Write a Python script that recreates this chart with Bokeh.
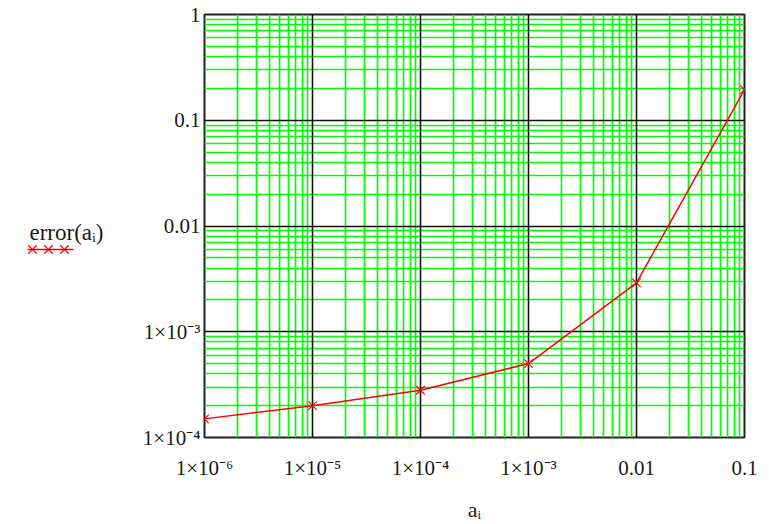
import math
from bokeh.plotting import figure
from bokeh.models import (Range1d, FixedTicker, Grid, CustomJSTickFormatter,
                          ColumnDataSource)
from bokeh.layouts import row
from bokeh.core.properties import value
from bokeh.embed import file_html
from bokeh.resources import INLINE

# ---- data ----
a_values = [1e-6, 1e-5, 1e-4, 1e-3, 1e-2, 1e-1]
error_values = [1.5e-4, 2.0e-4, 2.8e-4, 5.0e-4, 2.9e-3, 0.195]

x_ticks = [1e-6, 1e-5, 1e-4, 1e-3, 1e-2, 1e-1]
x_tick_labels = ["1×10⁻⁶", "1×10⁻⁵", "1×10⁻⁴", "1×10⁻³", "0.01", "0.1"]
y_ticks = [1e-4, 1e-3, 1e-2, 1e-1, 1.0]
y_tick_labels = ["1×10⁻⁴", "1×10⁻³", "0.01", "0.1", "1"]

x_label = "aᵢ"
y_label = "error(aᵢ)"

FONT = "Liberation Serif"
TXT = "#1a1a1a"
GREEN = "#00ff00"

TOP, BOTTOM = 14, 87
LEFT_W = 120

x_minor = [m * t for t in x_ticks[:-1] for m in range(2, 10)]
y_minor = [m * t for t in y_ticks[:-1] for m in range(2, 10)]

xticker = FixedTicker(ticks=x_ticks, minor_ticks=x_minor)
yticker = FixedTicker(ticks=y_ticks, minor_ticks=y_minor)


def make_formatter(ticks, labels):
    exps = [round(math.log10(t)) for t in ticks]
    return CustomJSTickFormatter(
        args=dict(exps=exps, labels=labels),
        code="""
        const e = Math.round(Math.log10(tick));
        const i = exps.indexOf(e);
        return i >= 0 ? labels[i] : "";
        """,
    )


p = figure(width=769 - LEFT_W, height=524, x_axis_type="log", y_axis_type="log",
           x_range=Range1d(x_ticks[0], x_ticks[-1]),
           y_range=Range1d(y_ticks[0], y_ticks[-1]),
           output_backend="svg", toolbar_location=None,
           min_border_left=204 - LEFT_W, min_border_right=25,
           min_border_top=TOP, min_border_bottom=BOTTOM)
p.background_fill_color = "white"
p.border_fill_color = "white"
p.outline_line_color = "#222222"
p.outline_line_width = 2

p.xgrid.visible = False
p.ygrid.visible = False

for dim, tk in ((0, xticker), (1, yticker)):
    p.add_layout(Grid(dimension=dim, ticker=tk, grid_line_color=None,
                      minor_grid_line_color=GREEN, minor_grid_line_width=1.7))
for dim, tk in ((0, xticker), (1, yticker)):
    p.add_layout(Grid(dimension=dim, ticker=tk, grid_line_color="#111111",
                      grid_line_width=1.6, minor_grid_line_color=None))

for ax, tk, fm in ((p.xaxis[0], xticker, make_formatter(x_ticks, x_tick_labels)),
                   (p.yaxis[0], yticker, make_formatter(y_ticks, y_tick_labels))):
    ax.ticker = tk
    ax.formatter = fm
    ax.axis_line_color = None
    ax.major_tick_line_color = None
    ax.minor_tick_line_color = None
    ax.major_tick_out = 0
    ax.minor_tick_out = 0
    ax.major_label_text_font = FONT
    ax.major_label_text_font_size = "21px"
    ax.major_label_text_color = TXT

p.xaxis.major_label_standoff = 18
p.yaxis.major_label_standoff = 4
p.xaxis.axis_label = x_label
p.xaxis.axis_label_text_font = FONT
p.xaxis.axis_label_text_font_size = "22px"
p.xaxis.axis_label_text_font_style = "normal"
p.xaxis.axis_label_text_color = TXT
p.xaxis.axis_label_standoff = 14

src = ColumnDataSource(dict(a=a_values, err=error_values))
p.line("a", "err", source=src, line_color="red", line_width=1.5)
p.scatter("a", "err", source=src, marker="x", size=12,
          line_color="red", line_width=1.2)

# ---- left strip: y title with its trace sample (Mathcad style) ----
# ranges in pixels of the page so that the strip lines up with the plot frame
q = figure(width=LEFT_W, height=524,
           x_range=Range1d(0, LEFT_W), y_range=Range1d(524 - BOTTOM, TOP),
           output_backend="svg", toolbar_location=None,
           x_axis_location=None, y_axis_location=None,
           min_border_left=0, min_border_right=0,
           min_border_top=TOP, min_border_bottom=BOTTOM)
q.outline_line_color = None
q.background_fill_color = "white"
q.border_fill_color = "white"
q.xgrid.visible = False
q.ygrid.visible = False
q.text(x=[29], y=[232], text=[y_label], text_font=value(FONT),
       text_font_size="23px", text_color=TXT, text_baseline="alphabetic")
q.line(x=[27, 73], y=[249, 249], line_color="red", line_width=1.5)
q.scatter(x=[32, 48, 64], y=[249, 249, 249], marker="x", size=12,
          line_color="red", line_width=1.2)

open("out.html", "w").write(file_html(row(q, p), INLINE))
